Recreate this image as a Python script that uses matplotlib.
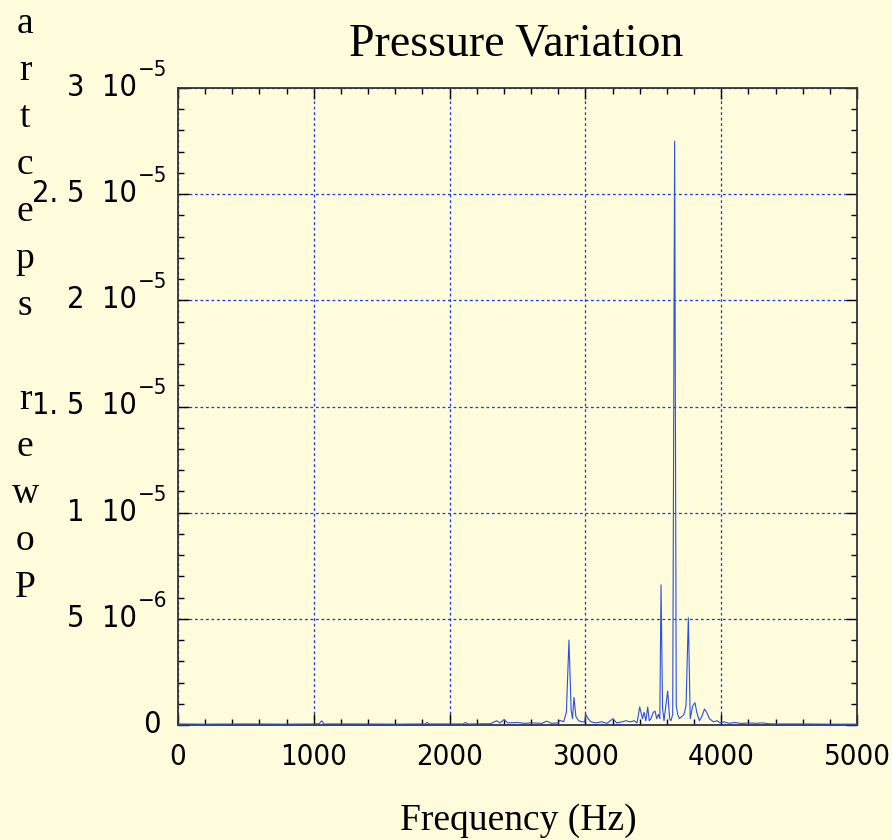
import matplotlib
matplotlib.use("Agg")
import matplotlib.pyplot as plt
import matplotlib.font_manager as fm
from matplotlib.transforms import blended_transform_factory, offset_copy
import numpy as np
from matplotlib.ticker import MultipleLocator, FixedLocator, NullFormatter

# ---------------- data ----------------
freq_hz = [0, 200, 500, 800, 1000, 1040, 1058, 1075, 1300, 1600, 1820, 1834, 1850,
           2100, 2118, 2135, 2300, 2347, 2370, 2400, 2430, 2500, 2550, 2600, 2680,
           2715, 2750, 2800, 2813, 2840, 2860, 2879, 2895, 2905, 2916, 2930, 2950,
           2975, 2995, 3003, 3020, 3040, 3080, 3120, 3160, 3203, 3230, 3270, 3300,
           3330, 3360, 3380, 3400, 3420, 3432, 3445, 3459, 3470, 3483, 3500, 3513,
           3525, 3537, 3548, 3557, 3568, 3579, 3590, 3606, 3620, 3630, 3643, 3657,
           3669, 3680, 3692, 3710, 3726, 3741, 3758, 3772, 3790, 3807, 3820, 3839,
           3857, 3877, 3893, 3913, 3943, 3970, 3991, 4020, 4060, 4100, 4150, 4200,
           4260, 4300, 4350, 4400, 4600, 4800, 5000]
power_e6 = [0.05, 0.04, 0.05, 0.04, 0.05, 0.06, 0.2, 0.05, 0.05, 0.04, 0.05, 0.12, 0.05,
            0.05, 0.12, 0.05, 0.06, 0.2, 0.1, 0.25, 0.1, 0.12, 0.08, 0.1, 0.08,
            0.18, 0.08, 0.1, 0.22, 0.15, 0.6, 4.0, 0.7, 0.3, 1.3, 0.4, 0.2,
            0.15, 0.15, 0.5, 0.3, 0.15, 0.1, 0.15, 0.08, 0.3, 0.1, 0.15, 0.2,
            0.15, 0.2, 0.1, 0.85, 0.3, 0.6, 0.2, 0.85, 0.2, 0.3, 0.6, 0.65,
            0.3, 0.5, 0.3, 6.6, 0.8, 0.2, 0.8, 1.6, 0.3, 0.2, 0.5, 27.5,
            0.9, 0.5, 0.3, 0.4, 0.5, 0.9, 5.05, 0.3, 0.9, 1.05, 0.6, 0.2,
            0.4, 0.75, 0.6, 0.3, 0.15, 0.2, 0.1, 0.15, 0.08, 0.12, 0.07, 0.1,
            0.08, 0.1, 0.06, 0.05, 0.05, 0.04, 0.04]

x_ticks = [0, 1000, 2000, 3000, 4000, 5000]
x_ticklabels = ["0", "1000", "2000", "3000", "4000", "5000"]
y_ticks = [0, 5e-6, 1e-5, 1.5e-5, 2e-5, 2.5e-5, 3e-5]
y_mantissas = ["0", "5", "1", "1. 5", "2", "2. 5", "3"]
y_exponents = ["", "\u22126", "\u22125", "\u22125", "\u22125", "\u22125", "\u22125"]
title = "Pressure Variation"
xlabel = "Frequency (Hz)"
ylabel = "Power spectra"

# ---------------- fonts ----------------
def tick_font(size):
    names = {f.name for f in fm.fontManager.ttflist}
    if "Liberation Sans Narrow" in names:
        return fm.FontProperties(family="Liberation Sans Narrow", size=size)
    cond = [f.fname for f in fm.fontManager.ttflist
            if f.name == "DejaVu Sans" and "Condensed" in f.fname
            and "Bold" not in f.fname and "Oblique" not in f.fname]
    if cond:
        return fm.FontProperties(fname=cond[0], size=size)
    return fm.FontProperties(family="Liberation Sans", size=size * 0.9)

# ---------------- style ----------------
BG = "#FFFCDC"
W, H = 892, 840
fig = plt.figure(figsize=(W / 100, H / 100), dpi=100, facecolor=BG)
L, R, T, B = 178, 857, 88, 725
ax = fig.add_axes([L / W, 1 - B / H, (R - L) / W, (B - T) / H], facecolor=BG)

power = np.array(power_e6) * 1e-6
ax.plot(freq_hz, power, color="#2a4fe6", lw=0.8, zorder=3)

ax.set_xlim(0, 5000)
ax.set_ylim(0, 3e-5)

ax.xaxis.set_major_locator(FixedLocator(x_ticks))
ax.xaxis.set_minor_locator(MultipleLocator(200))
ax.yaxis.set_major_locator(FixedLocator(y_ticks))
ax.yaxis.set_minor_locator(MultipleLocator(1e-6))
ax.xaxis.set_major_formatter(NullFormatter())
ax.yaxis.set_major_formatter(NullFormatter())

ax.tick_params(which="both", direction="in", top=True, right=True, colors="black")
ax.tick_params(which="major", length=8, width=1.0)
ax.tick_params(which="minor", length=4, width=1.0)

for s in ax.spines.values():
    s.set_color("#333340")
    s.set_linewidth(1.3)

ax.grid(True, which="major", color="#1438f5", lw=0.9, linestyle=(0, (2.2, 2.2)))
ax.set_axisbelow(True)

fp_x = tick_font(21)
fp_y = tick_font(22)
fp_sup = tick_font(16)

# x tick labels
tx = blended_transform_factory(ax.transData, fig.transFigure)
for v, s in zip(x_ticks, x_ticklabels):
    ax.text(v, 1 - 765 / H, s, transform=tx, fontproperties=fp_x,
            ha="center", va="baseline", clip_on=False)

# y tick labels: mantissa + "10" then raised exponent
ty = blended_transform_factory(fig.transFigure, ax.transData)
base_off = offset_copy(ty, fig=fig, x=0, y=-8, units="dots")
sup_off = offset_copy(ty, fig=fig, x=0, y=12, units="dots")
for v, m, e in zip(y_ticks, y_mantissas, y_exponents):
    if e:
        ax.text(137 / W, v, m + "  10", transform=base_off, fontproperties=fp_y,
                ha="right", va="baseline", clip_on=False)
        ax.text(137.5 / W, v, e, transform=sup_off, fontproperties=fp_sup,
                ha="left", va="baseline", clip_on=False)
    else:
        ax.text(161 / W, v, m, transform=base_off, fontproperties=fp_y,
                ha="right", va="baseline", clip_on=False)

# Title and x label
fig.text(516 / W, 1 - 55 / H, title, family="Liberation Serif", fontsize=33,
         ha="center", va="baseline")
fig.text(518 / W, 1 - 830 / H, xlabel, family="Liberation Serif", fontsize=27,
         ha="center", va="baseline")

# stacked, reversed y label
letters = list(ylabel[::-1])
for i, ch in enumerate(letters):
    if ch == " ":
        continue
    fig.text(25 / W, 1 - (33 + 47.0 * i) / H, ch, family="Liberation Serif",
             fontsize=27, ha="center", va="baseline")

fig.savefig("out.png", dpi=100, facecolor=BG)
